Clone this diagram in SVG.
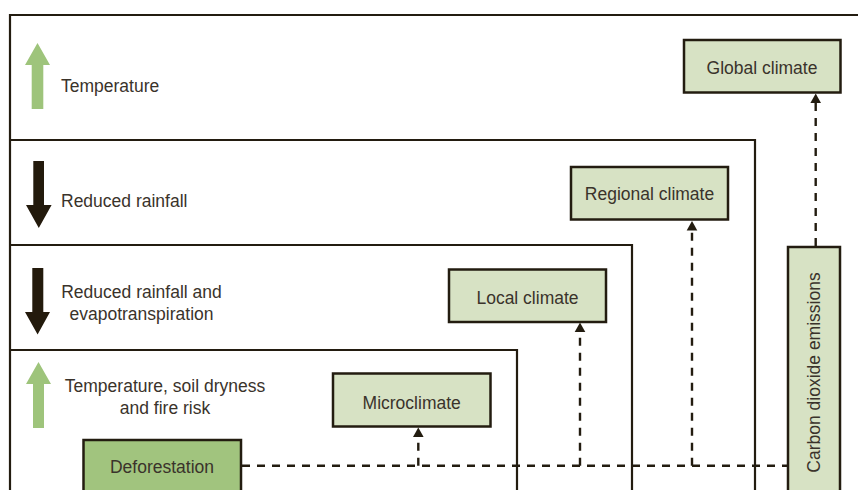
<svg xmlns="http://www.w3.org/2000/svg" width="858" height="490" viewBox="0 0 858 490">
<defs>
<style>
.frame{fill:none;stroke:#231c10;stroke-width:2.2}
.box{fill:#d7e2c4;stroke:#231c10;stroke-width:2.5}
.boxd{fill:#a1c47e;stroke:#231c10;stroke-width:2.5}
.lbl{font-family:"Liberation Sans",Arial,sans-serif;font-size:17.5px;fill:#3a332b}
.mid{text-anchor:middle}
.dash{fill:none;stroke:#231c10;stroke-width:2.4;stroke-dasharray:8 7}
.green{fill:#9ec47b}
.dark{fill:#231a0c}
.ah{fill:#231c10}
</style>
</defs>
<rect width="858" height="490" fill="#ffffff"/>
<g id="frames">
<path class="frame" d="M10,492 V15 H860"/>
<path class="frame" d="M10,140 H755 V492"/>
<path class="frame" d="M10,245 H632 V492"/>
<path class="frame" d="M10,350 H517 V492"/>
</g>
<g id="indicators">
<polygon class="green" points="37.5,43 50,65 43.3,65 43.3,109 31.7,109 31.7,65 25,65"/>
<text class="lbl" x="61" y="92">Temperature</text>
<polygon class="dark" points="33.3,161 44,161 44,205 51.6,205 38.8,228 26,205 33.3,205"/>
<text class="lbl" x="61" y="206.5">Reduced rainfall</text>
<polygon class="dark" points="32.3,268 43.3,268 43.3,312 50,312 37.6,334.5 25,312 32.3,312"/>
<text class="lbl mid" x="141.5" y="297.5">Reduced rainfall and</text>
<text class="lbl mid" x="141.5" y="319.5">evapotranspiration</text>
<polygon class="green" points="38.5,362 51,384 44,384 44,428 33,428 33,384 26,384"/>
<text class="lbl mid" x="165" y="391.5">Temperature, soil dryness</text>
<text class="lbl mid" x="165" y="413.5">and fire risk</text>
</g>
<g id="connectors">
<path class="dash" d="M242,465.7 H788"/>
<path class="dash" d="M418.3,465.7 V437"/>
<path class="dash" d="M580,465.7 V332"/>
<path class="dash" d="M692,465.7 V230"/>
<path class="dash" d="M815.7,246 V103"/>
<polygon class="ah" points="413,437 423.6,437 418.3,427.5"/>
<polygon class="ah" points="574.7,332 585.3,332 580,322.5"/>
<polygon class="ah" points="686.7,230.5 697.3,230.5 692,221"/>
<polygon class="ah" points="810.4,103 821,103 815.7,93.5"/>
</g>
<g id="global">
<rect class="box" x="684" y="40" width="156.5" height="52.5"/>
<text class="lbl mid" x="762" y="73.5">Global climate</text>
</g>
<g id="regional">
<rect class="box" x="571" y="167" width="157" height="52.5"/>
<text class="lbl mid" x="649.5" y="200">Regional climate</text>
</g>
<g id="local">
<rect class="box" x="449" y="269.5" width="157" height="52.5"/>
<text class="lbl mid" x="527.5" y="304">Local climate</text>
</g>
<g id="micro">
<rect class="box" x="333" y="373.5" width="157.5" height="53"/>
<text class="lbl mid" x="411.7" y="409.3">Microclimate</text>
</g>
<g id="deforestation">
<rect class="boxd" x="83.5" y="440" width="157.5" height="60"/>
<text class="lbl mid" x="162" y="473.3">Deforestation</text>
</g>
<g id="co2">
<rect class="box" x="788" y="247" width="52" height="253"/>
<text class="lbl mid" transform="translate(819.5 372.5) rotate(-90)">Carbon dioxide emissions</text>
</g>
</svg>
